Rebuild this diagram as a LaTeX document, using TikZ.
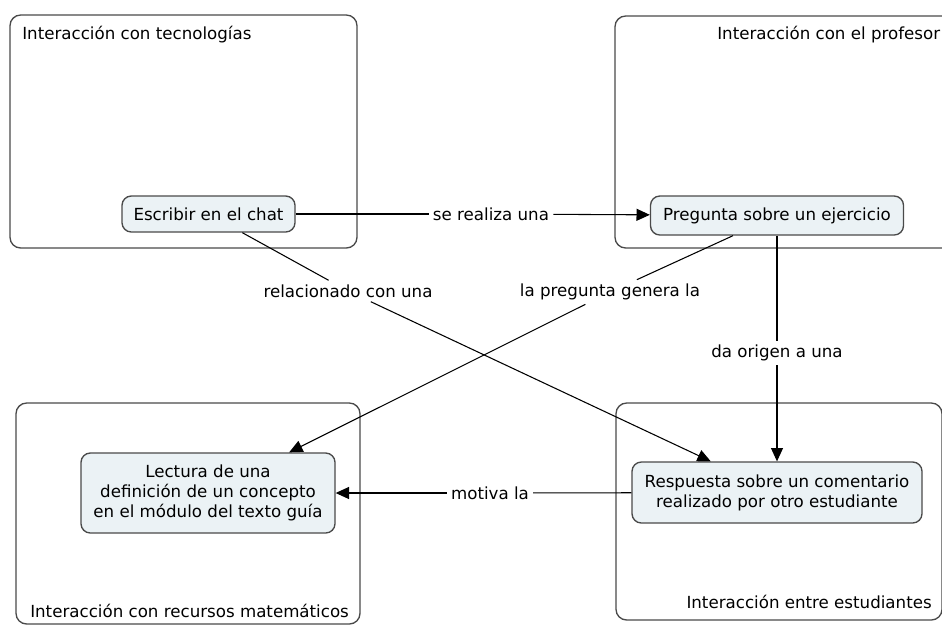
\documentclass[tikz,border=0pt]{standalone}
\usepackage{fontspec}
\setmainfont{DejaVu Sans}
\usetikzlibrary{arrows.meta}
\definecolor{edgegray}{HTML}{4A4A4A}
\definecolor{cfill}{HTML}{EBF2F5}
\begin{document}
\begin{tikzpicture}[x=0.75pt,y=-0.75pt,
  frame/.style={draw=edgegray, line width=1pt, rounded corners=8pt, fill=white},
  concept/.style={draw=edgegray, line width=1pt, rounded corners=7pt, fill=cfill, align=center, inner sep=0pt, font=\fontsize{12.5}{15}\selectfont},
  title/.style={font=\fontsize{12.5}{15}\selectfont, inner sep=0pt},
  link/.style={font=\fontsize{12.5}{15}\selectfont, inner sep=3pt},
  conn/.style={draw=black, line width=0.8pt},
  arr/.style={conn, -{Triangle[length=10pt,width=9pt]}}]
\useasboundingbox (0,0) rectangle (942,626);
% frames
\draw[frame] (10,15) rectangle (357,248);
\draw[frame] (615,16) rectangle (960,248);
\draw[frame] (16,403) rectangle (360,624);
\draw[frame] (616,403) rectangle (942,620);
% titles
\node[title, anchor=west] (t1) at (22,35) {Interacción con tecnologías};
\node[title, anchor=west] (t2) at (717,35) {Interacción con el profesor};
\node[title, anchor=west] (t3) at (30,611) {Interacción con recursos matemáticos};
\node[title, anchor=east] (t4) at (932,602) {Interacción entre estudiantes};
% concepts
\node[concept, minimum width=129.75pt, minimum height=27pt] (esc) at (208.5,214) {Escribir en el chat};
\node[concept, minimum width=189.75pt, minimum height=29.25pt] (preg) at (777,215.5) {Pregunta sobre un ejercicio};
\node[concept, minimum width=190.5pt, minimum height=60pt] (lect) at (208,493) {Lectura de una\\definición de un concepto\\en el módulo del texto guía};
\node[concept, minimum width=217.5pt, minimum height=45.75pt] (resp) at (777,492.5) {Respuesta sobre un comentario\\realizado por otro estudiante};
% link labels
\node[link] (l1) at (491,214) {se realiza una};
\node[link] (l2) at (348,291) {relacionado con una};
\node[link] (l3) at (610,292) {la pregunta genera la};
\node[link] (l4) at (777,353) {da origen a una};
\node[link] (l5) at (490,493) {motiva la};
% connectors
\draw[conn] (esc) -- (l1);
\draw[arr] (l1) -- (preg);
\draw[conn] (esc) -- (l2);
\draw[arr] (l2) -- (resp);
\draw[conn] (preg) -- (l3);
\draw[arr] (l3) -- (lect);
\draw[conn] (preg) -- (l4);
\draw[arr] (l4) -- (resp);
\draw[conn] (resp) -- (l5);
\draw[arr] (l5) -- (lect);
\end{tikzpicture}
\end{document}
